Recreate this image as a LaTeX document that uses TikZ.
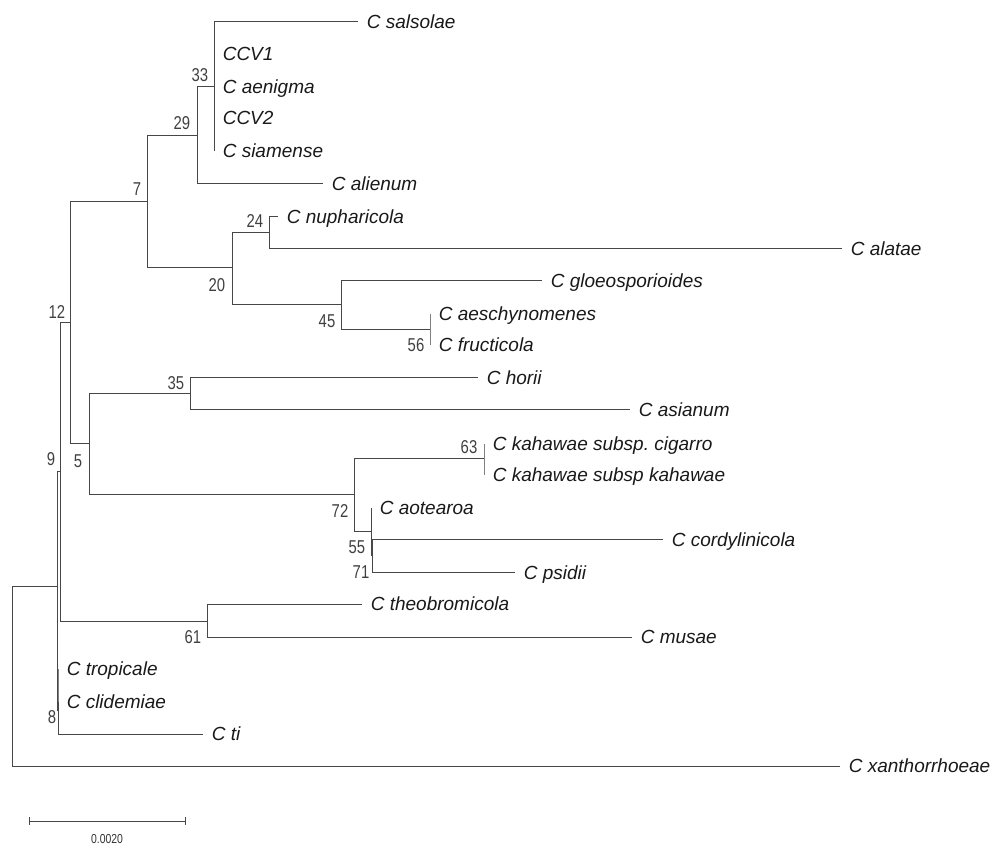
\documentclass[tikz,border=0pt]{standalone}
\usepackage{fontspec}
\setmainfont{Liberation Sans}
\newfontfamily\narrowfont[FakeStretch=0.8]{Liberation Sans}
\frenchspacing
\begin{document}
\begin{tikzpicture}[x=0.5pt,y=-0.5pt,
  branch/.style={draw=black!72, line width=0.5pt},
  zerobr/.style={draw=black!50, line width=0.5pt},
  taxon/.style={anchor=base west, inner sep=0pt, xshift=4.2pt, yshift=-3.3pt,
    font=\fontsize{9.5}{11}\selectfont\itshape, text=black!90},
  boot/.style={inner sep=0pt, font=\narrowfont\fontsize{9.3}{11}\selectfont, text=black!75}]
\useasboundingbox (0,0) rectangle (992,845);
% internal nodes (x of node, y where it joins its parent)
\coordinate (R) at (12,676);
\coordinate (X) at (57,587);
\coordinate (N9) at (60,472);
\coordinate (N12) at (70,323);
\coordinate (N7) at (147,202);
\coordinate (N29) at (197,136);
\coordinate (N33) at (214,87);
\coordinate (N20) at (232,268);
\coordinate (N24) at (269,233);
\coordinate (N45) at (341,305);
\coordinate (N56) at (430,330);
\coordinate (N5) at (89,444);
\coordinate (N35) at (190,394);
\coordinate (N72) at (354,495);
\coordinate (N63) at (484,459);
\coordinate (N55) at (371,532);
\coordinate (N71) at (372,556);
\coordinate (N61) at (207,621);
\coordinate (N8) at (58,710);
\coordinate (NT) at (58,686);
% leaf tips
\coordinate (salsolae) at (358,22);
\coordinate (ccv1) at (214,54);
\coordinate (aenigma) at (214,87);
\coordinate (ccv2) at (214,118);
\coordinate (siamense) at (214,151);
\coordinate (alienum) at (323,184);
\coordinate (nuphar) at (278,217);
\coordinate (alatae) at (842,249);
\coordinate (gloeo) at (542,281);
\coordinate (aeschy) at (430,314);
\coordinate (fructi) at (430,345);
\coordinate (horii) at (478,378);
\coordinate (asianum) at (630,410);
\coordinate (cigarro) at (484,444);
\coordinate (kahawae) at (484,475);
\coordinate (aotearoa) at (371,508);
\coordinate (cordy) at (663,540);
\coordinate (psidii) at (515,573);
\coordinate (theobro) at (362,604);
\coordinate (musae) at (632,637);
\coordinate (tropicale) at (58,669);
\coordinate (clidemiae) at (58,702);
\coordinate (ti) at (203,734);
\coordinate (xantho) at (840,766);
% branches
\foreach \p/\c in {R/X, R/xantho, X/N9, X/N8, N9/N12, N9/N61, N12/N7, N12/N5,
  N7/N29, N7/N20, N29/N33, N29/alienum, N33/salsolae, N33/ccv1, N33/aenigma,
  N33/ccv2, N33/siamense, N20/N24, N20/N45, N24/nuphar, N24/alatae, N45/gloeo,
  N45/N56, N5/N35, N5/N72, N35/horii, N35/asianum, N72/N63, N72/N55,
  N55/aotearoa, N55/N71, N71/cordy, N71/psidii, N61/theobro, N61/musae,
  N8/NT, N8/ti}
  \draw[branch] (\p) |- (\c);
\foreach \p/\c in {N56/aeschy, N56/fructi, N63/cigarro, N63/kahawae,
  NT/tropicale, NT/clidemiae}
  \draw[zerobr] (\p) |- (\c);
% taxon labels
\node[taxon] (Lsalsolae) at (salsolae) {C salsolae};
\node[taxon] (Lccv1) at (ccv1) {CCV1};
\node[taxon] (Laenigma) at (aenigma) {C aenigma};
\node[taxon] (Lccv2) at (ccv2) {CCV2};
\node[taxon] (Lsiamense) at (siamense) {C siamense};
\node[taxon] (Lalienum) at (alienum) {C alienum};
\node[taxon] (Lnuphar) at (nuphar) {C nupharicola};
\node[taxon] (Lalatae) at (alatae) {C alatae};
\node[taxon] (Lgloeo) at (gloeo) {C gloeosporioides};
\node[taxon] (Laeschy) at (aeschy) {C aeschynomenes};
\node[taxon] (Lfructi) at (fructi) {C fructicola};
\node[taxon] (Lhorii) at (horii) {C horii};
\node[taxon] (Lasianum) at (asianum) {C asianum};
\node[taxon] (Lcigarro) at (cigarro) {C kahawae subsp.\ cigarro};
\node[taxon] (Lkahawae) at (kahawae) {C kahawae subsp kahawae};
\node[taxon] (Laotearoa) at (aotearoa) {C aotearoa};
\node[taxon] (Lcordy) at (cordy) {C cordylinicola};
\node[taxon] (Lpsidii) at (psidii) {C psidii};
\node[taxon] (Ltheobro) at (theobro) {C theobromicola};
\node[taxon] (Lmusae) at (musae) {C musae};
\node[taxon] (Ltropicale) at (tropicale) {C tropicale};
\node[taxon] (Lclidemiae) at (clidemiae) {C clidemiae};
\node[taxon] (Lti) at (ti) {C ti};
\node[taxon] (Lxantho) at (xantho) {C xanthorrhoeae};
% bootstrap values
\node[boot] (b33) at (200,75) {33};
\node[boot] (b29) at (182,123) {29};
\node[boot] (b7) at (137,189) {7};
\node[boot] (b24) at (255,221) {24};
\node[boot] (b20) at (217,285) {20};
\node[boot] (b45) at (327,321) {45};
\node[boot] (b56) at (416,345) {56};
\node[boot] (b12) at (57,312) {12};
\node[boot] (b35) at (176,383) {35};
\node[boot] (b5) at (78,461) {5};
\node[boot] (b9) at (51,459) {9};
\node[boot] (b72) at (340,511) {72};
\node[boot] (b63) at (469,447) {63};
\node[boot] (b55) at (357,547) {55};
\node[boot] (b71) at (361,572) {71};
\node[boot] (b61) at (193,637) {61};
\node[boot] (b8) at (52,717) {8};
% scale bar
\coordinate (sbL) at (29,821);
\coordinate (sbR) at (185,821);
\draw[branch] (sbL) -- (sbR);
\draw[branch] ([yshift=2pt]sbL) -- ([yshift=-2pt]sbL);
\draw[branch] ([yshift=2pt]sbR) -- ([yshift=-2pt]sbR);
\node[anchor=base, inner sep=0pt, font=\narrowfont\fontsize{6.5}{7}\selectfont, text=black!80] (sblab) at (107,843) {0.0020};
\end{tikzpicture}
\end{document}
